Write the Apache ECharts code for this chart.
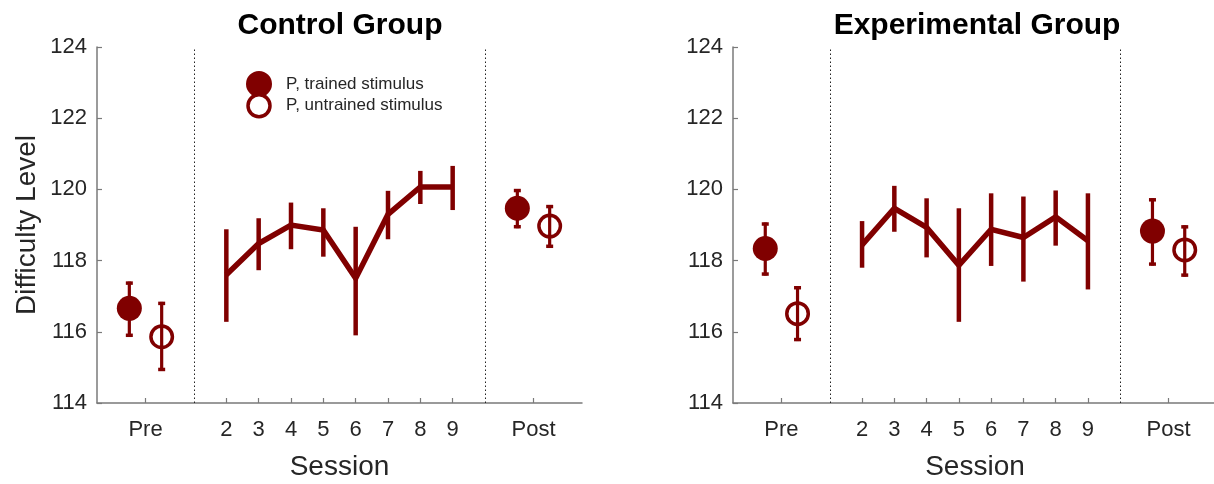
<!DOCTYPE html>
<html><head><meta charset="utf-8">
<script src="https://cdn.jsdelivr.net/npm/echarts@6/dist/echarts.min.js"></script>
<style>html,body{margin:0;padding:0;background:#fff}#c{width:1214px;height:484px}</style>
</head><body><div id="c"></div>
<script>
// ---- data ----
const sessions = [2, 3, 4, 5, 6, 7, 8, 9];
const trainedX = [-1, 11];      // Pre, Post (trained stimulus)
const untrainedX = [0, 12];     // Pre, Post (untrained stimulus)
const xTickValues = [-0.5, 2, 3, 4, 5, 6, 7, 8, 9, 11.5];
const xTickLabels = ['Pre', '2', '3', '4', '5', '6', '7', '8', '9', 'Post'];
const phaseDividers = [1, 10];

// Control group
const ctrlSessMean = [117.6, 118.48, 119.0, 118.86, 117.5, 119.3, 120.07, 120.07];
const ctrlSessLow  = [116.28, 117.73, 118.32, 118.11, 115.9, 118.6, 119.59, 119.42];
const ctrlSessHigh = [118.88, 119.19, 119.63, 119.47, 118.95, 119.96, 120.52, 120.66];
const ctrlTrainedMean = [116.66, 119.47];
const ctrlTrainedLow  = [115.86, 118.91];
const ctrlTrainedHigh = [117.41, 120.01];
const ctrlUntrainedMean = [115.86, 118.97];
const ctrlUntrainedLow  = [114.90, 118.36];
const ctrlUntrainedHigh = [116.84, 119.56];

// Experimental group
const expSessMean = [118.44, 119.47, 118.93, 117.87, 118.88, 118.65, 119.23, 118.56];
const expSessLow  = [117.8, 118.81, 118.09, 116.28, 117.85, 117.41, 118.42, 117.19];
const expSessHigh = [119.11, 120.1, 119.75, 119.47, 119.89, 119.8, 119.97, 119.89];
const expTrainedMean = [118.34, 118.83];
const expTrainedLow  = [117.58, 117.86];
const expTrainedHigh = [119.07, 119.75];
const expUntrainedMean = [116.51, 118.3];
const expUntrainedLow  = [115.74, 117.55];
const expUntrainedHigh = [117.28, 118.99];

// ---- style ----
const RED = '#800000';
const TXT = '#262626';
const AX = '#7a7a7a';
const FONT = '"Liberation Sans", Arial, Helvetica, sans-serif';

function errSeries(gi, xs, lows, highs, lw, capW) {
  return {
    type: 'custom', xAxisIndex: gi, yAxisIndex: gi, silent: true, z: 2,
    data: xs.map((x, i) => [x, lows[i], highs[i]]),
    encode: { x: 0, y: [1, 2] },
    renderItem(params, api) {
      const x = api.value(0);
      const p1 = api.coord([x, api.value(1)]);
      const p2 = api.coord([x, api.value(2)]);
      const st = { stroke: RED, lineWidth: lw, fill: null };
      const ch = [{ type: 'line', shape: { x1: p1[0], y1: p1[1], x2: p2[0], y2: p2[1] }, style: st }];
      if (capW) {
        const cs = { stroke: RED, lineWidth: 3.5, fill: null };
        ch.push({ type: 'line', shape: { x1: p1[0] - capW / 2, y1: p1[1] - 1.5, x2: p1[0] + capW / 2, y2: p1[1] - 1.5 }, style: cs });
        ch.push({ type: 'line', shape: { x1: p2[0] - capW / 2, y1: p2[1] + 1.5, x2: p2[0] + capW / 2, y2: p2[1] + 1.5 }, style: cs });
      }
      return { type: 'group', children: ch };
    }
  };
}

function panelSeries(gi, sMean, sLow, sHigh, tMean, tLow, tHigh, uMean, uLow, uHigh) {
  return [
    errSeries(gi, sessions, sLow, sHigh, 4.5, 0),
    errSeries(gi, trainedX, tLow, tHigh, 3.2, 7),
    errSeries(gi, untrainedX, uLow, uHigh, 3.2, 7),
    {
      type: 'line', xAxisIndex: gi, yAxisIndex: gi, z: 3, silent: true,
      data: sessions.map((s, i) => [s, sMean[i]]),
      symbol: 'none',
      lineStyle: { color: RED, width: 5.5, join: 'miter' },
      markLine: {
        silent: true, symbol: ['none', 'none'], label: { show: false },
        lineStyle: { color: '#222', width: 1, type: [1.5, 2.5] },
        emphasis: { disabled: true },
        data: phaseDividers.map(v => ({ xAxis: v }))
      }
    },
    {
      name: 'P, trained stimulus', type: 'scatter', xAxisIndex: gi, yAxisIndex: gi, z: 4, silent: true,
      data: trainedX.map((x, i) => [x, tMean[i]]),
      symbol: 'circle', symbolSize: 25,
      itemStyle: { color: RED, opacity: 1 }
    },
    {
      name: 'P, untrained stimulus', type: 'scatter', xAxisIndex: gi, yAxisIndex: gi, z: 4, silent: true,
      data: untrainedX.map((x, i) => [x, uMean[i]]),
      symbol: 'circle', symbolSize: 21.5,
      itemStyle: { color: 'rgba(255,255,255,0)', borderColor: RED, borderWidth: 3.5, opacity: 1 }
    }
  ];
}

function xAxisDef(gi) {
  return {
    type: 'value', gridIndex: gi, min: -2, max: 13,
    name: 'Session', nameLocation: 'middle', nameGap: 50,
    nameTextStyle: { fontSize: 28, color: TXT, fontFamily: FONT },
    axisLine: { show: true, onZero: false, lineStyle: { color: AX, width: 1.5 } },
    axisTick: { show: true, inside: true, length: 5, customValues: xTickValues, lineStyle: { color: AX, width: 1.2 } },
    axisLabel: {
      customValues: xTickValues, fontSize: 22, color: TXT, fontFamily: FONT, margin: 16,
      formatter: v => { const i = xTickValues.indexOf(v); return i >= 0 ? xTickLabels[i] : ''; }
    },
    splitLine: { show: false }
  };
}

function yAxisDef(gi, withName) {
  return {
    type: 'value', gridIndex: gi, min: 114, max: 124, interval: 2,
    name: withName ? 'Difficulty Level' : '', nameLocation: 'middle', nameGap: 56,
    nameTextStyle: { fontSize: 28, color: TXT, fontFamily: FONT },
    axisLine: { show: true, onZero: false, lineStyle: { color: AX, width: 1.5 } },
    axisTick: { show: true, inside: true, length: 5, lineStyle: { color: AX, width: 1.2 } },
    axisLabel: { fontSize: 22, color: TXT, fontFamily: FONT, margin: 10 },
    splitLine: { show: false }
  };
}

const chart = echarts.init(document.getElementById('c'), null, { renderer: 'canvas' });
chart.setOption({
  animation: false,
  backgroundColor: '#fff',
  title: [
    { text: 'Control Group', left: 340, top: 11, textAlign: 'center', padding: 0,
      textStyle: { fontSize: 30, fontWeight: 'bold', color: '#000', fontFamily: FONT } },
    { text: 'Experimental Group', left: 977, top: 11, textAlign: 'center', padding: 0,
      textStyle: { fontSize: 30, fontWeight: 'bold', color: '#000', fontFamily: FONT } }
  ],
  legend: {
    orient: 'vertical', left: 246, top: 71, itemGap: -4, itemWidth: 40, itemHeight: 22,
    selectedMode: false, padding: 0,
    textStyle: { fontSize: 17, color: TXT, fontFamily: FONT, padding: [0, 0, 0, 2] },
    data: [
      { name: 'P, trained stimulus', icon: 'circle', itemStyle: { color: RED, borderColor: RED, borderWidth: 4 } },
      { name: 'P, untrained stimulus', icon: 'circle', itemStyle: { color: '#fff', borderColor: RED, borderWidth: 3.5 } }
    ]
  },
  grid: [
    { left: 97, top: 47, width: 485, height: 356, containLabel: false, outerBoundsMode: 'none' },
    { left: 733, top: 47, width: 484, height: 356, containLabel: false, outerBoundsMode: 'none' }
  ],
  xAxis: [xAxisDef(0), xAxisDef(1)],
  yAxis: [yAxisDef(0, true), yAxisDef(1, false)],
  series: [
    ...panelSeries(0, ctrlSessMean, ctrlSessLow, ctrlSessHigh, ctrlTrainedMean, ctrlTrainedLow, ctrlTrainedHigh, ctrlUntrainedMean, ctrlUntrainedLow, ctrlUntrainedHigh),
    ...panelSeries(1, expSessMean, expSessLow, expSessHigh, expTrainedMean, expTrainedLow, expTrainedHigh, expUntrainedMean, expUntrainedLow, expUntrainedHigh)
  ]
});
</script>
</body></html>
